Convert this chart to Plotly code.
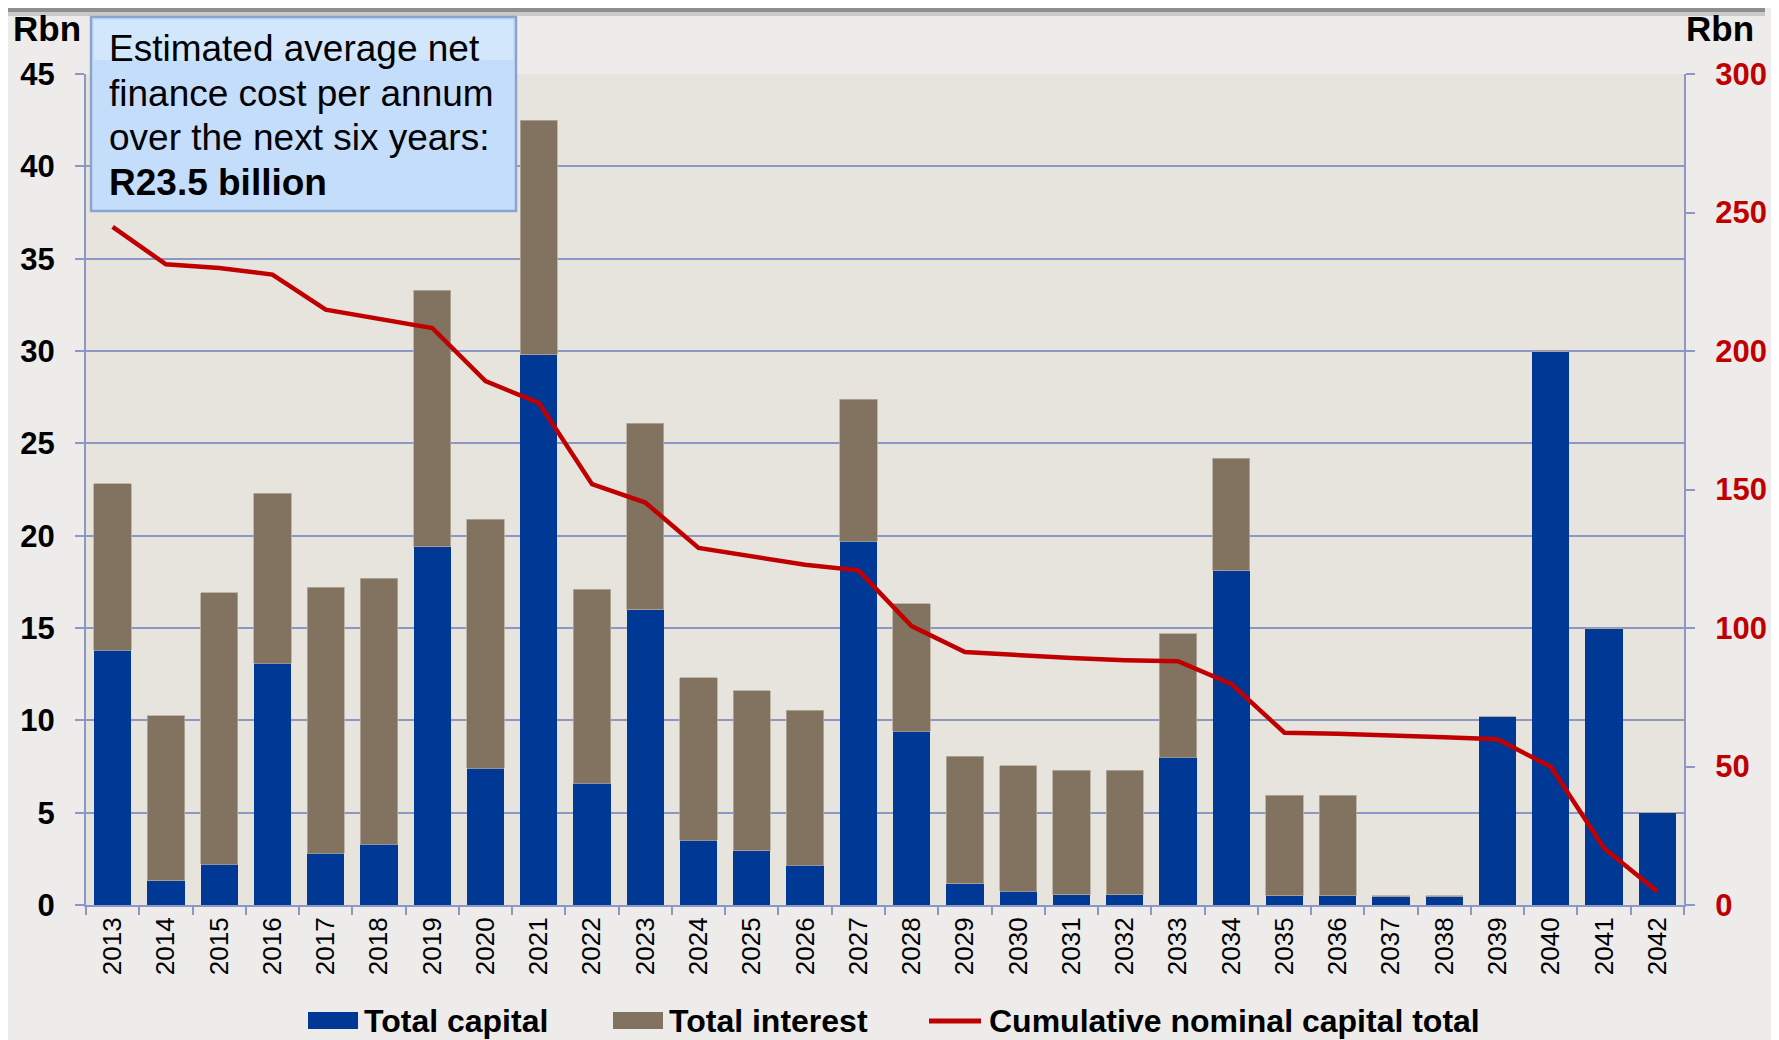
import plotly.graph_objects as go

years = [str(y) for y in range(2013, 2043)]
total_capital = [13.8, 1.3, 2.2, 13.1, 2.8, 3.3, 19.4, 7.4, 29.8, 6.6,
                 16.0, 3.5, 2.95, 2.15, 19.7, 9.4, 1.15, 0.75, 0.55, 0.55,
                 8.0, 18.1, 0.5, 0.5, 0.45, 0.45, 10.2, 30.0, 15.0, 5.0]
total_interest = [9.0, 8.95, 14.7, 9.2, 14.4, 14.4, 13.9, 13.5, 12.7, 10.5,
                  10.1, 8.8, 8.65, 8.4, 7.7, 6.9, 6.9, 6.8, 6.75, 6.75,
                  6.7, 6.1, 5.45, 5.45, 0.06, 0.06, 0.0, 0.0, 0.0, 0.0]
cumulative = [244.8, 231.3, 230.0, 227.6, 214.9, 211.6, 208.3, 189.1, 181.3, 151.9,
              145.3, 128.9, 125.7, 122.8, 120.8, 100.7, 91.3, 90.1, 89.2, 88.4,
              88.0, 79.8, 62.2, 61.8, 61.4, 60.6, 59.8, 49.9, 20.5, 4.9]
left_ticks = [0, 5, 10, 15, 20, 25, 30, 35, 40, 45]
right_ticks = [0, 50, 100, 150, 200, 250, 300]
box_lines = ["Estimated average net", "finance cost per annum",
             "over the next six years:", "<b>R23.5 billion</b>"]
legend_names = ["Total capital", "Total interest", "Cumulative nominal capital total"]

BLUE = "#003896"
BROWN = "#827360"
RED = "#C00000"
GRID = "#8C97C6"
FONT = "Liberation Sans, Arial, sans-serif"

W, H = 1779, 1040
OFF = 8  # page body margin of the html page
# plot area in page pixels
L, R, T, B = 86, 1684, 74, 905


def px(x):
    return (x - L) / (R - L)


def py(y):
    return (B - y) / (B - T)


fig = go.Figure()
fig.add_trace(go.Bar(x=years, y=total_capital, name=legend_names[0],
                     marker=dict(color=BLUE, line=dict(width=0))))
fig.add_trace(go.Bar(x=years, y=total_interest, name=legend_names[1],
                     marker=dict(color=BROWN, line=dict(width=0.8, color="#B4AA9B"))))
fig.add_trace(go.Scatter(x=years, y=cumulative, name=legend_names[2], yaxis="y2",
                         mode="lines", line=dict(color=RED, width=4.5)))

shapes = []
annotations = []

# top shadow strip
shapes.append(dict(type="rect", xref="paper", yref="paper", x0=px(OFF), x1=px(1765),
                   y0=py(OFF + 4), y1=py(OFF), fillcolor="#8E8E8E", line=dict(width=0), layer="below"))
shapes.append(dict(type="rect", xref="paper", yref="paper", x0=px(OFF), x1=px(1765),
                   y0=py(OFF + 8), y1=py(OFF + 4), fillcolor="#C9C9C9", line=dict(width=0), layer="below"))

# info box
shapes.append(dict(type="rect", xref="paper", yref="paper", x0=px(91), x1=px(516),
                   y0=py(211), y1=py(17), fillcolor="#C4DDFA",
                   line=dict(color="#8AA3CF", width=2.5), layer="above"))
shapes.append(dict(type="rect", xref="paper", yref="paper", x0=px(94), x1=px(513),
                   y0=py(60), y1=py(20), fillcolor="#D2E6FC",
                   line=dict(width=0), layer="above"))
line_centers = [48.5, 93.5, 138.0, 182.5]
for txt, yc in zip(box_lines, line_centers):
    annotations.append(dict(xref="paper", yref="paper", x=px(107), y=py(yc),
                            xanchor="left", yanchor="middle", showarrow=False,
                            text=txt, font=dict(family=FONT, size=37, color="#000000")))

# axis unit labels
annotations.append(dict(xref="paper", yref="paper", x=px(11), y=py(29), xanchor="left",
                        yanchor="middle", showarrow=False, text="<b>Rbn</b>",
                        font=dict(family=FONT, size=35, color="#000000")))
annotations.append(dict(xref="paper", yref="paper", x=px(1684), y=py(29), xanchor="left",
                        yanchor="middle", showarrow=False, text="<b>Rbn</b>",
                        font=dict(family=FONT, size=35, color="#000000")))

# custom legend
LEG_Y = 1021
shapes.append(dict(type="rect", xref="paper", yref="paper", x0=px(308), x1=px(358),
                   y0=py(LEG_Y + 8), y1=py(LEG_Y - 9), fillcolor=BLUE, line=dict(width=0)))
shapes.append(dict(type="rect", xref="paper", yref="paper", x0=px(613), x1=px(663),
                   y0=py(LEG_Y + 8), y1=py(LEG_Y - 9), fillcolor=BROWN, line=dict(width=0)))
shapes.append(dict(type="line", xref="paper", yref="paper", x0=px(929), x1=px(981),
                   y0=py(LEG_Y), y1=py(LEG_Y), line=dict(color=RED, width=5)))
for txt, x0 in zip(legend_names, [362, 667, 987]):
    annotations.append(dict(xref="paper", yref="paper", x=px(x0), y=py(LEG_Y),
                            xanchor="left", yanchor="middle", showarrow=False,
                            text="<b>" + txt + "</b>",
                            font=dict(family=FONT, size=32, color="#000000")))

fig.update_layout(
    width=W, height=H,
    margin=dict(l=L - OFF, r=W - (R - OFF), t=T - OFF, b=H - (B - OFF), pad=0),
    paper_bgcolor="#EDECEA",
    plot_bgcolor="#E7E4DE",
    barmode="stack",
    bargap=0.3,
    showlegend=False,
    font=dict(family=FONT, color="#000000"),
    xaxis=dict(
        type="category", tickangle=-90, showline=True, linecolor=GRID, linewidth=2,
        ticks="outside", tickson="boundaries", ticklen=8, tickcolor=GRID, tickwidth=1.5,
        showgrid=False, tickfont=dict(family=FONT, size=26, color="#000000"),
        range=[-0.5, 29.5],
    ),
    yaxis=dict(
        range=[0, 45], tickvals=left_ticks, showline=True, linecolor=GRID, linewidth=2,
        ticks="outside", ticklen=9, tickcolor=GRID, tickwidth=1.5,
        showgrid=True, gridcolor=GRID, gridwidth=1.5, zeroline=False,
        tickfont=dict(family=FONT, size=31, color="#000000", weight="bold"),
        ticklabelstandoff=14,
    ),
    yaxis2=dict(
        range=[0, 300], tickvals=right_ticks, overlaying="y", side="right",
        showline=True, linecolor=GRID, linewidth=2,
        ticks="outside", ticklen=9, tickcolor=GRID, tickwidth=1.5,
        showgrid=False, zeroline=False,
        tickfont=dict(family=FONT, size=31, color=RED, weight="bold"),
        ticklabelstandoff=14,
    ),
    shapes=shapes,
    annotations=annotations,
)

fig.write_html("out.html")
